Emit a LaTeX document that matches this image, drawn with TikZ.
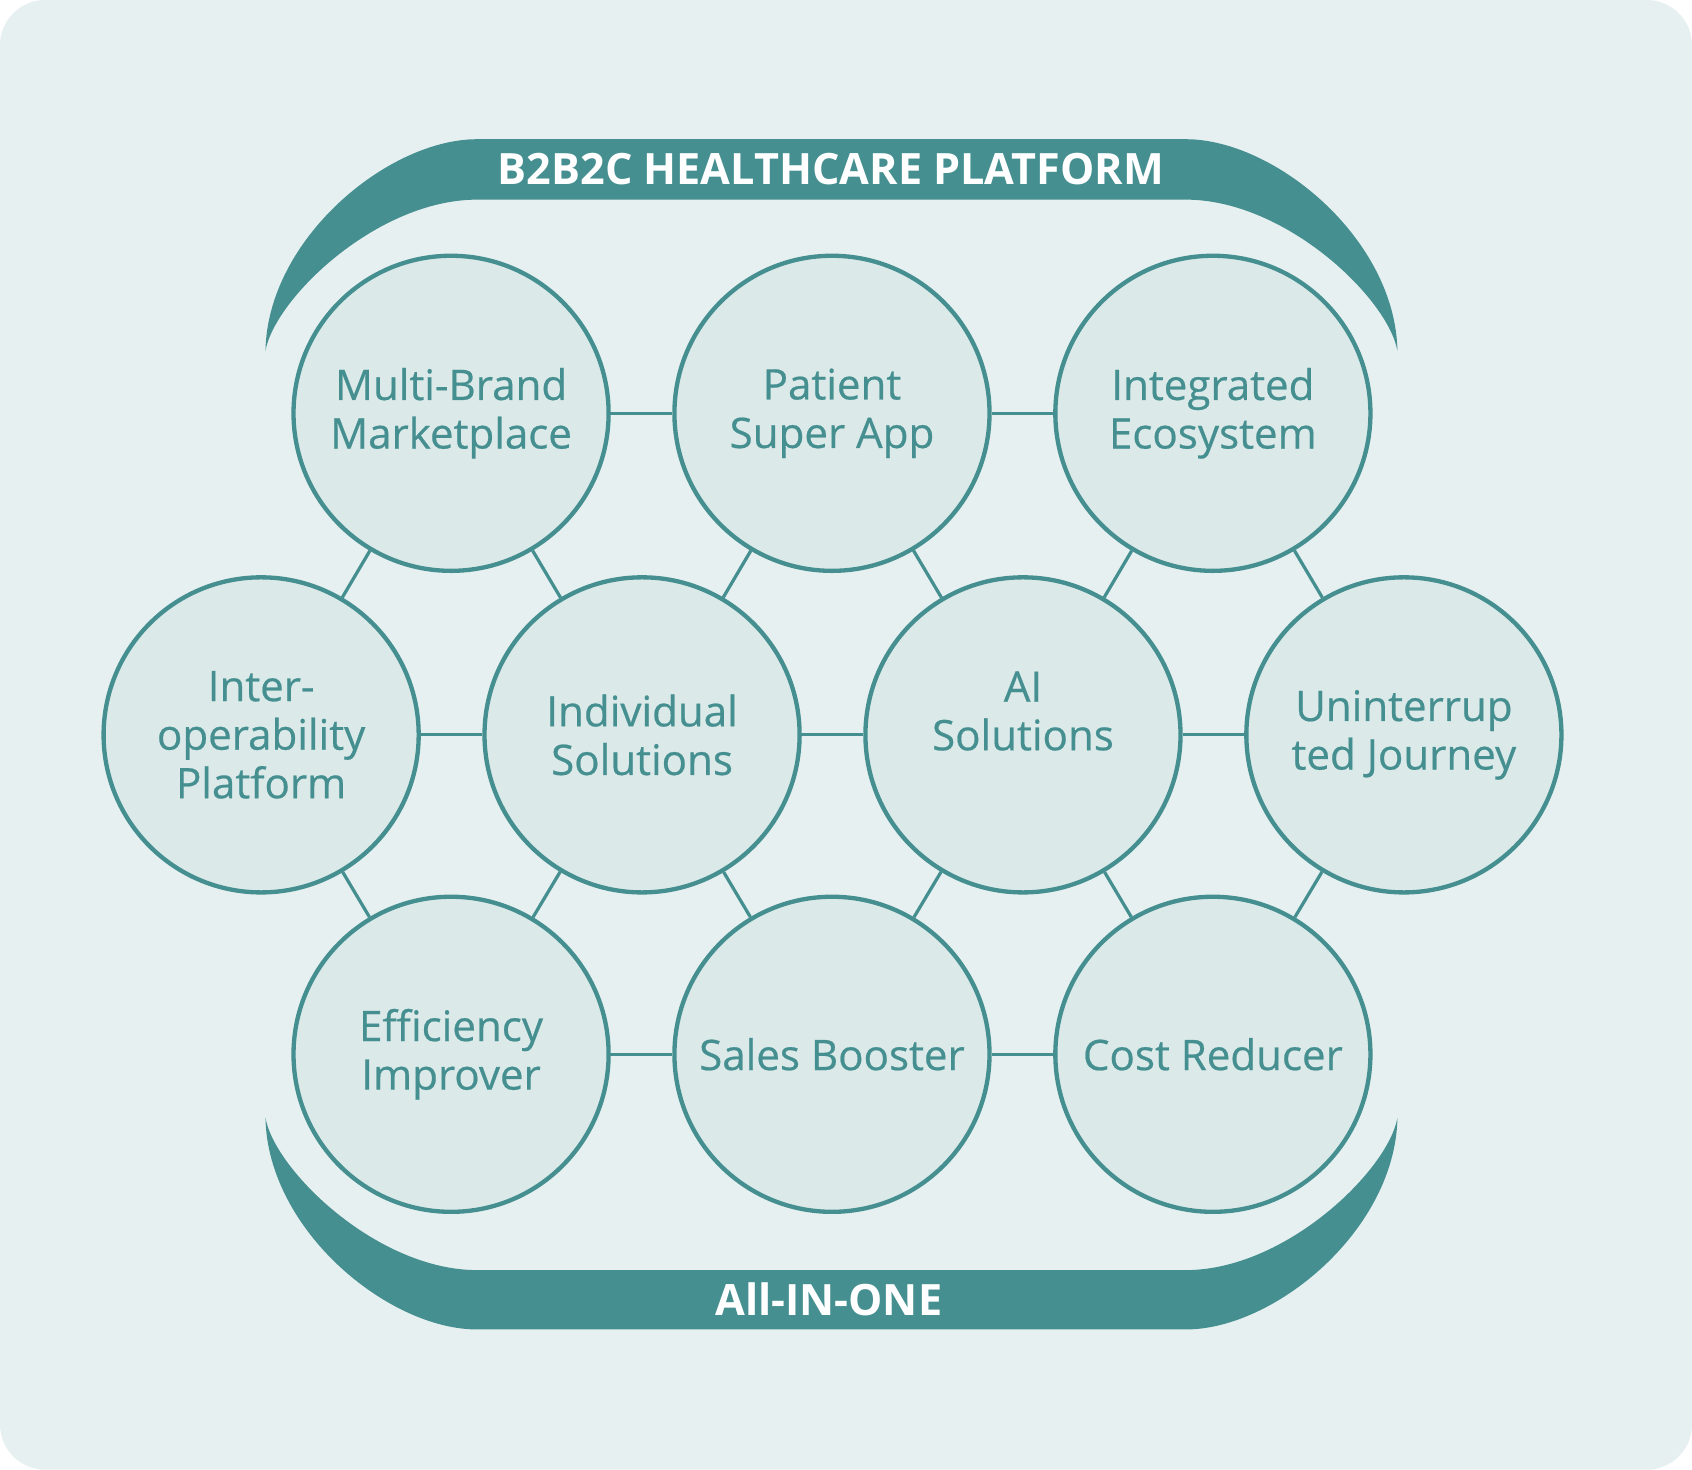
\documentclass[tikz,border=0pt]{standalone}
\usepackage{fontspec}
\setmainfont{Open Sans}
\newfontfamily\labelfont{Open Sans}[FakeBold=0.5]
\definecolor{teal1}{HTML}{458F90}
\definecolor{bgc}{HTML}{E6F0F0}
\definecolor{cfill}{HTML}{DBE9E9}
\tikzset{
  bubble/.style={circle, draw=teal1, line width=2pt, fill=cfill, minimum size=146pt, inner sep=0pt,
    text=teal1, align=center, font=\labelfont\fontsize{19.5}{22.5}\selectfont},
  link/.style={draw=teal1, line width=1.5pt},
  band/.style={fill=teal1, draw=none},
  bandtext/.style={text=white, font=\fontsize{20}{22}\selectfont\bfseries, inner sep=0pt}
}
\begin{document}
\begin{tikzpicture}[x=0.5pt, y=-0.5pt]
\useasboundingbox (0,0) rectangle (1568,1362);
\fill[white] (0,0) rectangle (1568,1362);
\fill[bgc, rounded corners=21pt] (0,0) rectangle (1568,1362);
% bands
\path[band] (246,325) .. controls (248,221) and (360,129) .. (442,129) -- (1099,129)
  .. controls (1181,129) and (1293,221) .. (1295,325)
  .. controls (1286,276) and (1191,185) .. (1099,185) -- (442,185)
  .. controls (350,185) and (255,276) .. (246,325) -- cycle;
\path[band] (246,1036) .. controls (248,1140) and (360,1232) .. (442,1232) -- (1099,1232)
  .. controls (1181,1232) and (1293,1140) .. (1295,1036)
  .. controls (1286,1085) and (1191,1177) .. (1099,1177) -- (442,1177)
  .. controls (350,1177) and (255,1085) .. (246,1036) -- cycle;
\node[bandtext] (top) at (770,157) {B2B2C HEALTHCARE PLATFORM};
\node[bandtext] (bot) at (768,1204) {All-IN-ONE};
% bubbles
\node[bubble] (mb)  at (418,383) {Multi-Brand\\Marketplace};
\node[bubble] (psa) at (771,383) {Patient\\Super App};
\node[bubble] (ie)  at (1124,383) {Integrated\\Ecosystem};
\node[bubble] (iop) at (242,681) {Inter-\\operability\\Platform};
\node[bubble] (ind) at (595,681) {Individual\\Solutions};
\node[bubble] (ai)  at (948,681) {AI\\Solutions\\[-7pt]\strut};
\node[bubble] (uj)  at (1301,681) {Uninterrup\\ted Journey};
\node[bubble] (ei)  at (418,977) {Efficiency\\Improver};
\node[bubble] (sb)  at (771,977) {Sales Booster};
\node[bubble] (cr)  at (1124,977) {Cost Reducer};
% links
\path[link] (mb) -- (psa);
\path[link] (psa) -- (ie);
\path[link] (iop) -- (ind);
\path[link] (ind) -- (ai);
\path[link] (ai) -- (uj);
\path[link] (ei) -- (sb);
\path[link] (sb) -- (cr);
\path[link] (mb) -- (iop);
\path[link] (mb) -- (ind);
\path[link] (psa) -- (ind);
\path[link] (psa) -- (ai);
\path[link] (ie) -- (ai);
\path[link] (ie) -- (uj);
\path[link] (ei) -- (iop);
\path[link] (ei) -- (ind);
\path[link] (sb) -- (ind);
\path[link] (sb) -- (ai);
\path[link] (cr) -- (ai);
\path[link] (cr) -- (uj);
\end{tikzpicture}
\end{document}
